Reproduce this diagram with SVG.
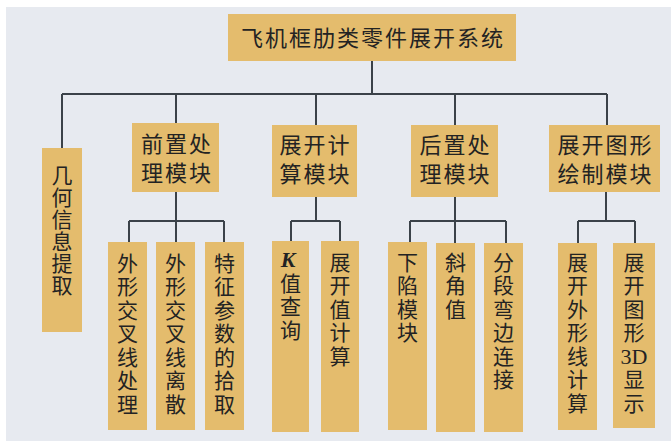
<svg xmlns="http://www.w3.org/2000/svg" width="671" height="441" viewBox="0 0 671 441">
<style>
.box{fill:#e4bc6d;}
.t{font-family:"Noto Sans CJK SC","Noto Sans",sans-serif;font-size:22px;fill:#232323;text-anchor:middle;letter-spacing:2px;}
.v{font-family:"Noto Sans CJK SC","Noto Sans",sans-serif;font-size:21px;fill:#232323;writing-mode:vertical-rl;text-orientation:upright;letter-spacing:2.5px;}
.lat{font-family:"Liberation Serif",serif;font-size:22px;fill:#232323;text-anchor:middle;}
.ln{stroke:#3b4249;stroke-width:2;fill:none;}
</style>
<rect x="0" y="0" width="671" height="441" fill="#ffffff"/>
<rect x="6" y="7" width="665" height="434" fill="#e7eaf0"/>
<g id="connectors" class="ln">
<path d="M372,61V94M62,94H607M62,94V148M176,94V123M316,94V125M455,94V125M607,94V125"/>
<path d="M176,192V221M129,221H224M129,221V242M176,221V242M224,221V242"/>
<path d="M316,197V221M291,221H340M291,221V241M340,221V241"/>
<path d="M455,197V221M410,221H506M410,221V242M455,221V243M506,221V243"/>
<path d="M606,192V221M578,221H635M578,221V243M635,221V243"/>
</g>
<g id="root"><rect class="box" x="228" y="14" width="288" height="47"/><text class="t" x="373" y="46">飞机框肋类零件展开系统</text></g>
<g id="n_geom"><rect class="box" x="42" y="148" width="40" height="184"/>
<text class="v" x="62" y="164.5" style="letter-spacing:1px">几何信息提取</text></g>
<g id="n_pre"><rect class="box" x="132" y="123" width="87" height="69"/><text class="t" x="177" y="151.5">前置处</text><text class="t" x="177" y="180.5">理模块</text></g>
<g id="n_calc"><rect class="box" x="272" y="125" width="85" height="72"/><text class="t" x="315.5" y="153">展开计</text><text class="t" x="315.5" y="182">算模块</text></g>
<g id="n_post"><rect class="box" x="411" y="125" width="87" height="72"/><text class="t" x="455.5" y="153">后置处</text><text class="t" x="455.5" y="182">理模块</text></g>
<g id="n_draw"><rect class="box" x="549" y="125" width="111" height="67"/><text class="t" x="605.5" y="152.5">展开图形</text><text class="t" x="605.5" y="181.5">绘制模块</text></g>
<g id="l1"><rect class="box" x="108" y="242" width="39" height="188"/><text class="v" x="127.5" y="252.5">外形交叉线处理</text></g>
<g id="l2"><rect class="box" x="156" y="242" width="39" height="188"/><text class="v" x="175.5" y="252.5">外形交叉线离散</text></g>
<g id="l3"><rect class="box" x="205" y="242" width="39" height="188"/><text class="v" x="224.5" y="252.5">特征参数的拾取</text></g>
<g id="l4"><rect class="box" x="272" y="241" width="37" height="191"/>
<text class="lat" x="288" y="267" font-style="italic" font-weight="bold">K</text>
<text class="v" x="290.5" y="272.5">值查询</text></g>
<g id="l5"><rect class="box" x="321" y="241" width="38" height="191"/><text class="v" x="340" y="251.5">展开值计算</text></g>
<g id="l6"><rect class="box" x="388" y="242" width="39" height="188"/><text class="v" x="407.5" y="251.5">下陷模块</text></g>
<g id="l7"><rect class="box" x="436" y="243" width="39" height="189"/><text class="v" x="455.5" y="251.5">斜角值</text></g>
<g id="l8"><rect class="box" x="484" y="243" width="39" height="189"/><text class="v" x="503.5" y="251.5">分段弯边连接</text></g>
<g id="l9"><rect class="box" x="558" y="243" width="39" height="187"/><text class="v" x="577.5" y="251.5">展开外形线计算</text></g>
<g id="l10"><rect class="box" x="613" y="243" width="42" height="185"/>
<text class="v" x="634" y="251.5">展开图形</text>
<text class="lat" x="634" y="364">3D</text>
<text class="v" x="634" y="369">显示</text></g>
</svg>
